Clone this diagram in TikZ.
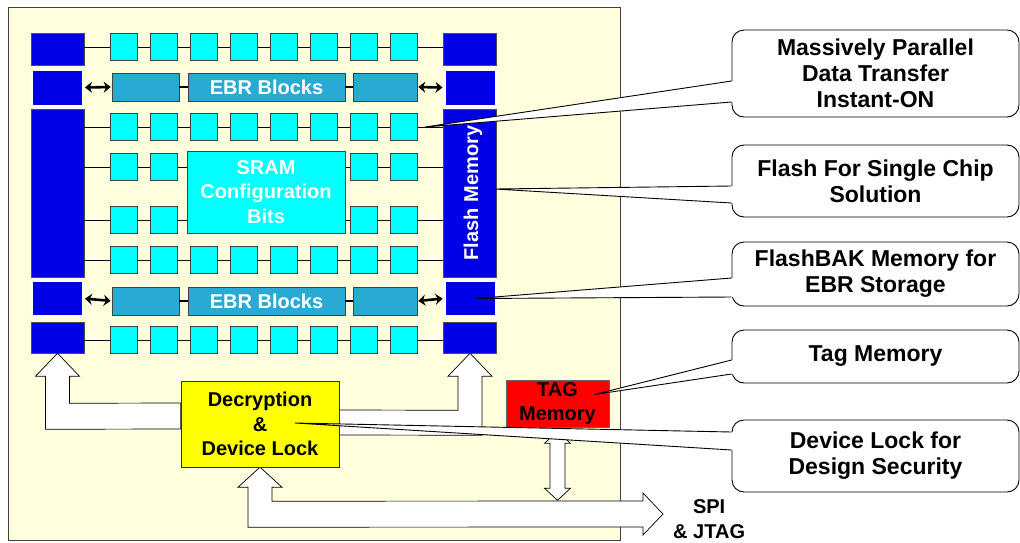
\documentclass[tikz,border=0pt]{standalone}
\usepackage{fontspec}
\setmainfont{Liberation Sans}
\usepackage{xcolor}
\usepackage{tikz}
\usetikzlibrary{arrows.meta, positioning, calc}

\definecolor{chipbg}{RGB}{255,255,221}
\definecolor{flashblue}{RGB}{0,0,230}
\definecolor{lutcyan}{RGB}{0,255,255}
\definecolor{ebrblue}{RGB}{41,170,212}
\definecolor{decyellow}{RGB}{255,255,0}
\definecolor{tagred}{RGB}{255,0,0}

\begin{document}
\begin{tikzpicture}[x=1pt, y=-1pt, every node/.style={font=\fontsize{20}{24.5}\selectfont\bfseries, inner sep=0pt}]
    % Styles
    \tikzstyle{flash} = [rectangle, draw=black!70, fill=flashblue, minimum width=53, line width=0.5pt]
    \tikzstyle{flashbak} = [rectangle, draw=white, fill=flashblue, minimum width=51, line width=2pt]
    \tikzstyle{lut} = [rectangle, draw=black!75, fill=lutcyan, minimum size=27, line width=0.6pt]
    \tikzstyle{ebrblock} = [rectangle, draw=black!75, fill=ebrblue, minimum height=28, text=white, line width=0.6pt]
    \tikzstyle{wire} = [black, line width=0.6pt]
    \tikzstyle{ebrlink} = [black, line width=2.5pt]
    \tikzstyle{ebrarrow} = [{Stealth[length=7pt,width=11pt]}-{Stealth[length=7pt,width=11pt]}, black, line width=2.6pt, shorten <=1pt, shorten >=1pt]
    \tikzstyle{blockarrow} = [draw=black, fill=white, line width=0.7pt, line join=miter]
    \tikzstyle{callout} = [rectangle, rounded corners=12, draw=black, fill=white, line width=0.9pt, align=center, font=\fontsize{23}{26}\selectfont\bfseries, minimum width=287]
    \tikzstyle{pointer} = [black, line width=0.9pt]

    \useasboundingbox (0,0) rectangle (1020,542);

    % Chip
    \node[draw=black!75, fill=chipbg, minimum width=612, minimum height=533, line width=0.8pt] (chip) at (314,273.5) {};

    % Flash columns
    \foreach \s/\x in {l/57.5, r/470} {
        \node[flash, minimum height=32] (\s1) at (\x,49) {};
        \node[flashbak, minimum height=36] (\s2) at (\x,87.5) {};
        \node[flash, minimum height=168] (\s3) at (\x,193) {};
        \node[flashbak, minimum height=35] (\s4) at (\x,298.5) {};
        \node[flash, minimum height=31] (\s5) at (\x,337.5) {};
    }
    \node[rotate=90, text=white] (flashlbl) at ($(r3)+(3,0)$) {Flash Memory};

    % Routing rows
    \foreach \c/\y in {1/47, 3/127, 3/167, 3/220, 3/260, 5/340}
        \draw[wire] (l\c.east |- 0,\y) -- (r\c.west |- 0,\y);

    % Logic blocks
    \foreach \r/\y in {1/47, 3/127, 6/260, 7/340}
        \foreach \i in {0,...,7}
            \node[lut] (s\r-\i) at ({124+39.9*\i},\y) {};
    \foreach \r/\y in {4/167, 5/220}
        \foreach \i in {0,1,6,7}
            \node[lut] (s\r-\i) at ({124+39.9*\i},\y) {};
    \node[lut, minimum width=158, minimum height=82, text=white, align=center] (sram) at (266,192) {SRAM\\Configuration\\Bits};

    % EBR rows
    \foreach \e/\y/\k in {1/87/2, 2/301/4} {
        \node[ebrblock, minimum width=67] (ebr\e-l) at (145.5,\y) {};
        \node[ebrblock, minimum width=157] (ebr\e-m) at (266.5,\y) {EBR Blocks};
        \node[ebrblock, minimum width=64] (ebr\e-r) at (385,\y) {};
        \draw[ebrlink] (ebr\e-l) -- (ebr\e-m);
        \draw[ebrlink] (ebr\e-m) -- (ebr\e-r);
        \draw[ebrarrow] (l\k.east) -- (ebr\e-l.west);
        \draw[ebrarrow] (ebr\e-r.east) -- (r\k.west);
    }

    % Security blocks
    \node[draw=black!60, fill=tagred, minimum width=103, minimum height=47, align=center, line width=0.6pt] (tag) at (557.5,403.5) {TAG\\Memory};
    \coordinate (dpos) at (260,424);
    \coordinate (busend) at (663,514);
    \node[right=10pt of busend, yshift=-5pt, align=center] (spi) {SPI\\\& JTAG};

    % Block arrows
    \path (dpos) node[minimum width=158, minimum height=86] (dec) {};
    \draw[blockarrow] (l5.south) -- ++(22,23) -- ++(-10,0) -- ++(0,27) -- ($(dec.west)+(0,-21)$) -- ++(0,26) -- ($(l5.south)+(-12,76)$) -- ++(0,-53) -- ++(-10,0) -- cycle;
    \draw[blockarrow] (r5.south) -- ++(22,23) -- ++(-10,0) -- ++(0,59) -- ($(dec.east)+(0,11)$) -- ++(0,-25) -- ($(r5.south)+(-12,57)$) -- ++(0,-34) -- ++(-10,0) -- cycle;
    \draw[blockarrow] (dec.south) -- ++(22,20) -- ++(-10,0) -- ++(0,14) -- ($(busend)+(-20,-13)$) -- ++(0,-8) -- (busend) -- ++(-20,21) -- ++(0,-8) -- ($(dec.south)+(-12,60)$) -- ++(0,-40) -- ++(-10,0) -- cycle;
    \draw[blockarrow] ($(tag.south)+(0,4)$) -- ++(13,12) -- ++(-5.5,0) -- ++(0,45) -- ++(5.5,0) -- ++(-13,12) -- ++(-13,-12) -- ++(5.5,0) -- ++(0,-45) -- ++(-5.5,0) -- cycle;
    \node[draw=black!80, fill=decyellow, minimum width=158, minimum height=86, align=center, line width=0.6pt] (decbox) at (dec) {Decryption\\\&\\Device Lock};

    % Callouts
    \node[callout, minimum height=87] (c1) at (875.5,73.5) {Massively Parallel\\Data Transfer\\Instant-ON};
    \node[callout, minimum height=72] (c2) at (875.5,181) {Flash For Single Chip\\Solution};
    \node[callout, minimum height=64] (c3) at (875.5,274) {FlashBAK Memory for\\EBR Storage};
    \node[callout, minimum height=53] (c4) at (875.5,356.5) {Tag Memory};
    \node[callout, minimum height=72] (c5) at (875.5,456) {Device Lock for\\Design Security};

    \coordinate (tipc1) at ($(s3-7.east)+(8,0)$);
    \coordinate (tipc2) at ($(r3.east)+(-2,-4)$);
    \coordinate (tipc3) at ($(r4)+(6,0)$);
    \coordinate (tipc4) at ($(tag)+(37,-9)$);
    \coordinate (tipc5) at ($(decbox)+(35,-1)$);

    \foreach \c/\a/\b in {c1/7.5/28.5, c2/5/22, c3/4/23, c4/3.5/17.5, c5/-24/-6} {
        \fill[white] (tip\c) -- ($(\c.west)+(2,\a)$) -- ($(\c.west)+(2,\b)$) -- cycle;
        \draw[pointer] ($(\c.west)+(0,\a)$) -- (tip\c) -- ($(\c.west)+(0,\b)$);
    }
\end{tikzpicture}
\end{document}
